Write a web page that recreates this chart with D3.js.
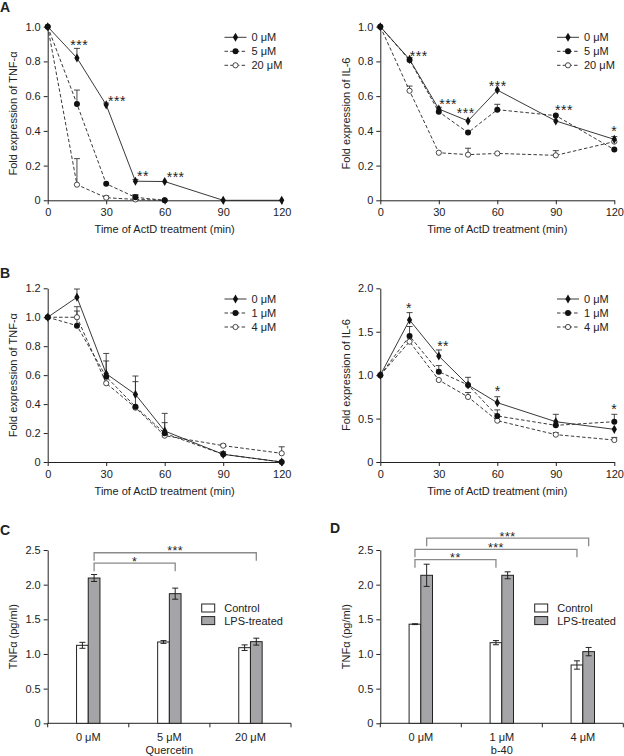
<!DOCTYPE html>
<html><head><meta charset="utf-8">
<script src="https://cdn.jsdelivr.net/npm/d3@7"></script>
<style>
body{margin:0;background:#fff}
svg text{font-family:"Liberation Sans",Arial,Helvetica,sans-serif;fill:#222}
svg text.star{opacity:0.99}
</style>
</head><body>
<svg id="c" width="624" height="756"></svg>
<script>
// ---------------- DATA ----------------
const times = [0, 15, 30, 45, 60, 90, 120];
const timeTicks = [0, 30, 60, 90, 120];

// Panel A (quercetin) – TNF-α
const aTnfLabels = ["0 μM", "5 μM", "20 μM"];
const aTnf0 = [1.0, 0.82, 0.55, 0.11, 0.108, 0, 0];
const aTnf0Err = [0, 0.055, 0.01, 0.01, 0, 0, 0];
const aTnf5 = [1.0, 0.555, 0.095, 0.017, 0];
const aTnf5Err = [0, 0.08, 0, 0.015, 0];
const aTnf20 = [1.0, 0.09, 0.015, 0.005, 0];
const aTnf20Err = [0, 0.15, 0.01, 0.025, 0];
const aTnfStars = [[16.2, 0.91, "***"], [35.5, 0.589, "***"], [48.9, 0.157, "**"], [65.6, 0.151, "***"]];

// Panel A (quercetin) – IL-6
const aIl0 = [1.0, 0.812, 0.526, 0.457, 0.635, 0.457, 0.351];
const aIl0Err = [0, 0.01, 0.01, 0, 0, 0, 0.016];
const aIl5 = [1.0, 0.808, 0.51, 0.39, 0.522, 0.488, 0.292];
const aIl5Err = [0, 0, 0, 0, 0.031, 0, 0];
const aIl20 = [1.0, 0.631, 0.274, 0.263, 0.27, 0.259, 0.338];
const aIl20Err = [0, 0.027, 0, 0.037, 0, 0.027, 0];
const aIlStars = [[19.7, 0.85, "***"], [34.8, 0.57, "***"], [43.8, 0.52, "***"], [60.2, 0.677, "***"], [94.2, 0.536, "***"], [120, 0.415, "*"]];

// Panel B (b-40) – TNF-α
const bLabels = ["0 μM", "1 μM", "4 μM"];
const bTnf0 = [1.0, 1.138, 0.61, 0.467, 0.214, 0.053, 0];
const bTnf0Err = [0, 0.057, 0.14, 0.127, 0.122, 0.018, 0];
const bTnf1 = [1.0, 0.942, 0.589, 0.382, 0.198, 0.053, 0];
const bTnf1Err = [0, 0.131, 0.109, 0.173, 0.074, 0, 0];
const bTnf4 = [1.0, 1.0, 0.544, 0.375, 0.182, 0.113, 0.06];
const bTnf4Err = [0, 0.043, 0, 0, 0, 0.01, 0.045];

// Panel B (b-40) – IL-6
const bIl0 = [1.0, 1.635, 1.22, 0.887, 0.683, 0.464, 0.376];
const bIl0Err = [0, 0.085, 0.07, 0.088, 0.069, 0.085, 0];
const bIl1 = [1.0, 1.451, 1.04, 0.887, 0.53, 0.422, 0.464];
const bIl1Err = [0, 0.109, 0.07, 0, 0.07, 0, 0.085];
const bIl4 = [1.0, 1.386, 0.944, 0.749, 0.476, 0.315, 0.253];
const bIl4Err = [0, 0, 0, 0.051, 0, 0.023, 0.03];
const bIlStars = [[14.7, 1.81, "*"], [32.2, 1.367, "**"], [60.2, 0.85, "*"], [120, 0.65, "*"]];

// Panel C (quercetin) – bars
const cCats = ["0 μM", "5 μM", "20 μM"];
const cControl = [1.125, 1.173, 1.091];
const cControlErr = [0.043, 0.02, 0.04];
const cLps = [2.096, 1.87, 1.178];
const cLpsErr = [0.05, 0.08, 0.05];
const cBrackets = [[0, "lps", 1, "lps", 2.31, "*"], [0, "lps", 2, "lps", 2.46, "***"]];

// Panel D (b-40) – bars
const dCats = ["0 μM", "1 μM", "4 μM"];
const dControl = [1.43, 1.163, 0.841];
const dControlErr = [0.006, 0.03, 0.06];
const dLps = [2.135, 2.135, 1.034];
const dLpsErr = [0.16, 0.05, 0.06];
const dBrackets = [[0, "control", 1, "control", 2.36, "**"], [0, "control", 2, "control", 2.51, "***"], [0, "lps", 2, "lps", 2.67, "***"]];

const groups = ["control", "lps"];
const groupNames = ["Control", "LPS-treated"];

// ---------------- DRAWING ----------------
const svg = d3.select("#c");
const FS = 11;
const STAR = 14;

function letter(txt, x, y) {
  svg.append("text").attr("x", x).attr("y", y).attr("font-size", 14)
    .attr("font-weight", "bold").text(txt);
}
letter("A", 0, 12); letter("B", 0, 278); letter("C", 0, 535); letter("D", 330, 533);

function styleAxis(g) {
  g.selectAll("path,line").attr("stroke", "#222").attr("stroke-width", 1);
  g.selectAll("text").attr("font-size", FS).attr("font-family", null).attr("fill", "#222");
}

function marker(g, type, x, y) {
  if (type === 0) {
    g.append("path").attr("d", d3.symbol().type(d3.symbolDiamond).size(24)())
      .attr("transform", `translate(${x},${y})`).attr("fill", "#111");
  } else if (type === 1) {
    g.append("circle").attr("cx", x).attr("cy", y).attr("r", 3).attr("fill", "#111");
  } else {
    g.append("circle").attr("cx", x).attr("cy", y).attr("r", 2.6)
      .attr("fill", "#fff").attr("stroke", "#333").attr("stroke-width", 0.9);
  }
}

function starText(g, x, y, s, size) {
  g.append("text").attr("class", "star").attr("x", x).attr("y", y).attr("text-anchor", "middle")
    .attr("font-size", size).attr("letter-spacing", 0.5).text(s);
}

function lineChart(o) {
  const x = d3.scaleLinear().domain([0, 120]).range([o.x0, o.x0 + 234]);
  const y = d3.scaleLinear().domain([0, o.ymax]).range([o.yb, o.yt]);
  const g = svg.append("g");
  const ax = g.append("g").attr("transform", `translate(0,${o.yb})`)
    .call(d3.axisBottom(x).tickValues(timeTicks).tickSize(4).tickSizeOuter(0).tickPadding(4));
  styleAxis(ax);
  const ay = g.append("g").attr("transform", `translate(${o.x0},0)`)
    .call(d3.axisLeft(y).tickValues(o.yticks).tickSize(4).tickSizeOuter(0).tickPadding(3)
      .tickFormat(d => d === 0 ? "0" : d3.format(".1f")(d)));
  styleAxis(ay);
  g.append("text").attr("x", o.x0 + 117).attr("y", o.yb + 33).attr("text-anchor", "middle")
    .attr("font-size", FS).text("Time of ActD treatment (min)");
  g.append("text").attr("transform", `translate(${o.x0 - 30.4},${(o.yb + o.yt) / 2}) rotate(-90)`)
    .attr("text-anchor", "middle").attr("font-size", FS).text(o.ylabel);

  const line = d3.line().x((d, i) => x(times[i])).y(d => y(d));
  for (let s = o.series.length - 1; s >= 0; s--) {
    const [vals, errs] = o.series[s];
    g.append("path").attr("d", line(vals)).attr("fill", "none").attr("stroke", "#222")
      .attr("stroke-width", 0.9).attr("stroke-dasharray", s === 0 ? null : "3.5,2.2");
    vals.forEach((v, i) => {
      const e = errs[i];
      if (e > 0) {
        const xx = x(times[i]);
        g.append("line").attr("x1", xx).attr("x2", xx).attr("y1", y(v)).attr("y2", y(v + e))
          .attr("stroke", "#333").attr("stroke-width", 0.9);
        g.append("line").attr("x1", xx - 3).attr("x2", xx + 3).attr("y1", y(v + e)).attr("y2", y(v + e))
          .attr("stroke", "#333").attr("stroke-width", 0.9);
      }
    });
  }
  for (let s = o.series.length - 1; s >= 0; s--) {
    o.series[s][0].forEach((v, i) => marker(g, s, x(times[i]), y(v)));
  }
  (o.stars || []).forEach(([t, v, s]) => starText(g, x(t), y(v) + STAR * 0.57, s, STAR));
  o.labels.forEach((lab, i) => {
    const ly = o.legY + i * 14;
    const lx = o.legX;
    g.append("line").attr("x1", lx).attr("x2", lx + 22).attr("y1", ly).attr("y2", ly)
      .attr("stroke", "#222").attr("stroke-width", 0.9).attr("stroke-dasharray", i === 0 ? null : "3.5,2.2");
    marker(g, i, lx + 11, ly);
    g.append("text").attr("x", lx + 27).attr("y", ly + 4).attr("font-size", FS).text(lab);
  });
}

lineChart({x0: 47.7, yb: 200.3, yt: 26.7, ymax: 1.0, yticks: [0, 0.2, 0.4, 0.6, 0.8, 1.0],
  ylabel: "Fold expression of TNF-α", labels: aTnfLabels,
  series: [[aTnf0, aTnf0Err], [aTnf5, aTnf5Err], [aTnf20, aTnf20Err]], stars: aTnfStars, legX: 224.5, legY: 37.3});
lineChart({x0: 380.3, yb: 200.3, yt: 26.7, ymax: 1.0, yticks: [0, 0.2, 0.4, 0.6, 0.8, 1.0],
  ylabel: "Fold expression of IL-6", labels: aTnfLabels,
  series: [[aIl0, aIl0Err], [aIl5, aIl5Err], [aIl20, aIl20Err]], stars: aIlStars, legX: 557, legY: 37.3});
lineChart({x0: 47.7, yb: 462, yt: 288.3, ymax: 1.2, yticks: [0, 0.2, 0.4, 0.6, 0.8, 1.0, 1.2],
  ylabel: "Fold expression of TNF-α", labels: bLabels,
  series: [[bTnf0, bTnf0Err], [bTnf1, bTnf1Err], [bTnf4, bTnf4Err]], stars: [], legX: 224.5, legY: 299});
lineChart({x0: 380.3, yb: 462, yt: 288.3, ymax: 2.0, yticks: [0, 0.5, 1.0, 1.5, 2.0],
  ylabel: "Fold expression of IL-6", labels: bLabels,
  series: [[bIl0, bIl0Err], [bIl1, bIl1Err], [bIl4, bIl4Err]], stars: bIlStars, legX: 557, legY: 299});

function barChart(o) {
  const x = d3.scaleBand().domain(o.cats).range([o.x0, o.x1]).padding(0);
  const bw = 11.7;
  const xs = d3.scaleBand().domain(groups).range([x.bandwidth() / 2 - bw, x.bandwidth() / 2 + bw]);
  const y = d3.scaleLinear().domain([0, 2.5]).range([723.3, 550]);
  const g = svg.append("g");
  const ay = g.append("g").attr("transform", `translate(${o.x0},0)`)
    .call(d3.axisLeft(y).tickValues([0, 0.5, 1.0, 1.5, 2.0, 2.5]).tickSize(4).tickSizeOuter(0).tickPadding(3)
      .tickFormat(d => d === 0 ? "0" : d3.format(".1f")(d)));
  styleAxis(ay);
  const xb = g.append("g").attr("transform", `translate(0,723.3)`);
  xb.append("line").attr("x1", o.x0).attr("x2", o.x1).attr("stroke", "#222");
  o.cats.forEach((c, i) => {
    xb.append("line").attr("x1", x(c)).attr("x2", x(c)).attr("y2", 4).attr("stroke", "#222");
    xb.append("text").attr("x", x(c) + x.bandwidth() / 2).attr("y", 17.3).attr("text-anchor", "middle")
      .attr("font-size", FS).text(c);
  });
  xb.append("line").attr("x1", o.x1).attr("x2", o.x1).attr("y2", 4).attr("stroke", "#222");
  g.append("text").attr("x", (o.x0 + o.x1) / 2).attr("y", 754).attr("text-anchor", "middle")
    .attr("font-size", FS).text(o.xlabel);
  g.append("text").attr("transform", `translate(${o.x0 - 30.4},636.7) rotate(-90)`)
    .attr("text-anchor", "middle").attr("font-size", FS).text("TNFα (pg/ml)");

  const data = {control: [o.control, o.controlErr], lps: [o.lps, o.lpsErr]};
  const fills = {control: "#ffffff", lps: "#a5a5a8"};
  groups.forEach(gr => {
    const [vals, errs] = data[gr];
    vals.forEach((v, i) => {
      const bx = x(o.cats[i]) + xs(gr);
      g.append("rect").attr("x", bx).attr("y", y(v)).attr("width", xs.bandwidth()).attr("height", y(0) - y(v))
        .attr("fill", fills[gr]).attr("stroke", "#222").attr("stroke-width", 1);
      const cx = bx + xs.bandwidth() / 2;
      const e = errs[i];
      g.append("line").attr("x1", cx).attr("x2", cx).attr("y1", y(v - e)).attr("y2", y(v + e)).attr("stroke", "#222");
      [v - e, v + e].forEach(w => g.append("line").attr("x1", cx - 3).attr("x2", cx + 3)
        .attr("y1", y(w)).attr("y2", y(w)).attr("stroke", "#222"));
    });
  });
  const center = (i, gr) => x(o.cats[i]) + xs(gr) + xs.bandwidth() / 2;
  o.brackets.forEach(([i1, g1, i2, g2, h, s]) => {
    const x1 = center(i1, g1), x2 = center(i2, g2), yy = y(h), yd = y(h - 0.115);
    g.append("path").attr("d", `M${x1},${yd}V${yy}H${x2}V${yd}`).attr("fill", "none")
      .attr("stroke", "#8a8a8a").attr("stroke-width", 1.3);
    starText(g, (x1 + x2) / 2, yy + 2.6, s, 12.5);
  });
  groupNames.forEach((n, i) => {
    const ly = 604 + i * 12.6;
    g.append("rect").attr("x", o.legX).attr("y", ly).attr("width", 13).attr("height", 8)
      .attr("fill", fills[groups[i]]).attr("stroke", "#222");
    g.append("text").attr("x", o.legX + 22.5).attr("y", ly + 8).attr("font-size", FS).text(n);
  });
}

barChart({x0: 47.7, x1: 291, cats: cCats, control: cControl, controlErr: cControlErr, lps: cLps, lpsErr: cLpsErr,
  brackets: cBrackets, xlabel: "Quercetin", legX: 201.7});
barChart({x0: 380.3, x1: 623.3, cats: dCats, control: dControl, controlErr: dControlErr, lps: dLps, lpsErr: dLpsErr,
  brackets: dBrackets, xlabel: "b-40", legX: 534.7});
</script>
</body></html>
